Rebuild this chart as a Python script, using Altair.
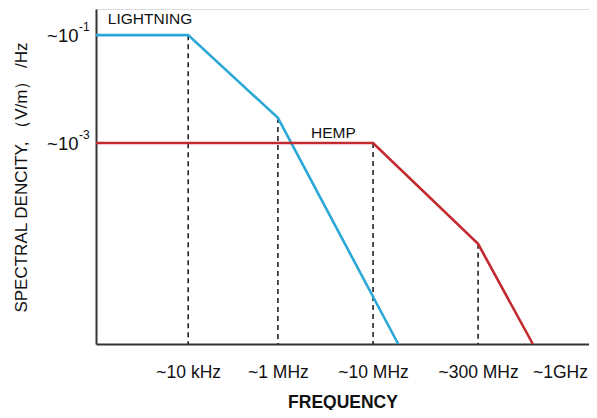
import altair as alt
import pandas as pd

# Schematic axis positions (arbitrary units, 0-100)
freq_labels = ["~10 kHz", "~1 MHz", "~10 MHz", "~300 MHz", "~1GHz"]
freq_pos = [18.7, 36.9, 56.2, 77.5, 94.1]

level_labels = ["~10", "~10"]
level_exponents = ["-1", "-3"]
level_pos = [92.2, 60.0]

lightning_x = [0, 18.7, 36.9, 61.3]
lightning_y = [92.2, 92.2, 67.5, 0]

hemp_x = [0, 56.2, 77.5, 88.6]
hemp_y = [60.0, 60.0, 29.9, 0]

guide_x = [18.7, 36.9, 56.2, 77.5]
guide_top = [92.2, 67.5, 60.0, 29.9]

series_names = ["LIGHTNING", "HEMP"]
series_label_x = [2.4, 43.6]
series_label_y = [97.0, 63.0]
series_colors = ["#2ba8d6", "#c22a30"]

rows = []
for name, xs, ys in [("LIGHTNING", lightning_x, lightning_y), ("HEMP", hemp_x, hemp_y)]:
    for i, (x, y) in enumerate(zip(xs, ys)):
        rows.append({"series": name, "x": x, "y": y, "order": i})
lines_df = pd.DataFrame(rows)
guides_df = pd.DataFrame({"x": guide_x, "top": guide_top, "bottom": [0] * len(guide_x)})
labels_df = pd.DataFrame({"series": series_names, "x": series_label_x, "y": series_label_y})
exp_df = pd.DataFrame({"exp": level_exponents, "y": level_pos})

def label_expr(values, labels):
    expr = "''"
    for v, l in reversed(list(zip(values, labels))):
        expr = f"abs(datum.value - {v}) < 0.01 ? '{l}' : ({expr})"
    return expr

FONT = "Liberation Sans"
INK = "#111111"

x_scale = alt.Scale(domain=[0, 100], nice=False, zero=False)
y_scale = alt.Scale(domain=[0, 100], nice=False, zero=False)

x_axis = alt.Axis(
    values=freq_pos, labelExpr=label_expr(freq_pos, freq_labels), grid=False, ticks=False,
    domainColor="#333333", domainWidth=2, labelFont=FONT, labelFontSize=17.5, labelColor=INK,
    labelPadding=28, labelBaseline="middle", labelFlush=False, labelOverlap=False,
    title="FREQUENCY", titleFont=FONT, titleFontSize=17.5, titleFontWeight="bold", titleColor=INK,
    titleBaseline="middle", titleY=58,
)
y_axis = alt.Axis(
    values=level_pos, labelExpr=label_expr(level_pos, level_labels), grid=False, ticks=False,
    domainColor="#333333", domainWidth=2, labelFont=FONT, labelFontSize=18.5, labelColor=INK,
    labelPadding=18, labelFlush=False, labelOverlap=False,
    title="SPECTRAL DENCITY, （V/m） /Hz", titleFont=FONT, titleFontSize=17, titleFontWeight="normal",
    titleColor=INK, titleBaseline="middle", titleX=-75, titleY=168, titleAngle=-90,
)

guides = alt.Chart(guides_df).mark_rule(color="#222222", strokeDash=[5, 4], strokeWidth=1.6).encode(
    x=alt.X("x:Q", scale=x_scale, axis=x_axis),
    y=alt.Y("top:Q", scale=y_scale, axis=y_axis),
    y2="bottom:Q",
)

lines = alt.Chart(lines_df).mark_line(strokeWidth=2.6).encode(
    x=alt.X("x:Q", scale=x_scale),
    y=alt.Y("y:Q", scale=y_scale),
    order="order:Q",
    color=alt.Color("series:N", scale=alt.Scale(domain=series_names, range=series_colors), legend=None),
)

texts = alt.Chart(labels_df).mark_text(
    align="left", baseline="middle", font=FONT, fontSize=15.5, color=INK
).encode(
    x=alt.X("x:Q", scale=x_scale),
    y=alt.Y("y:Q", scale=y_scale),
    text="series:N",
)

exps = alt.Chart(exp_df).mark_text(
    align="left", baseline="middle", font=FONT, fontSize=12, color=INK, dy=-8
).encode(
    x=alt.value(-17),
    y=alt.Y("y:Q", scale=y_scale),
    text="exp:N",
)

chart = alt.layer(guides, lines, texts, exps).properties(
    width=493, height=335,
    autosize=alt.AutoSizeParams(type="none"),
    padding={"left": 88, "top": 1, "right": 0, "bottom": 66},
).configure_view(stroke=None).configure(background="white")

chart.save("out.html", embed_options={"renderer": "svg", "actions": False})
